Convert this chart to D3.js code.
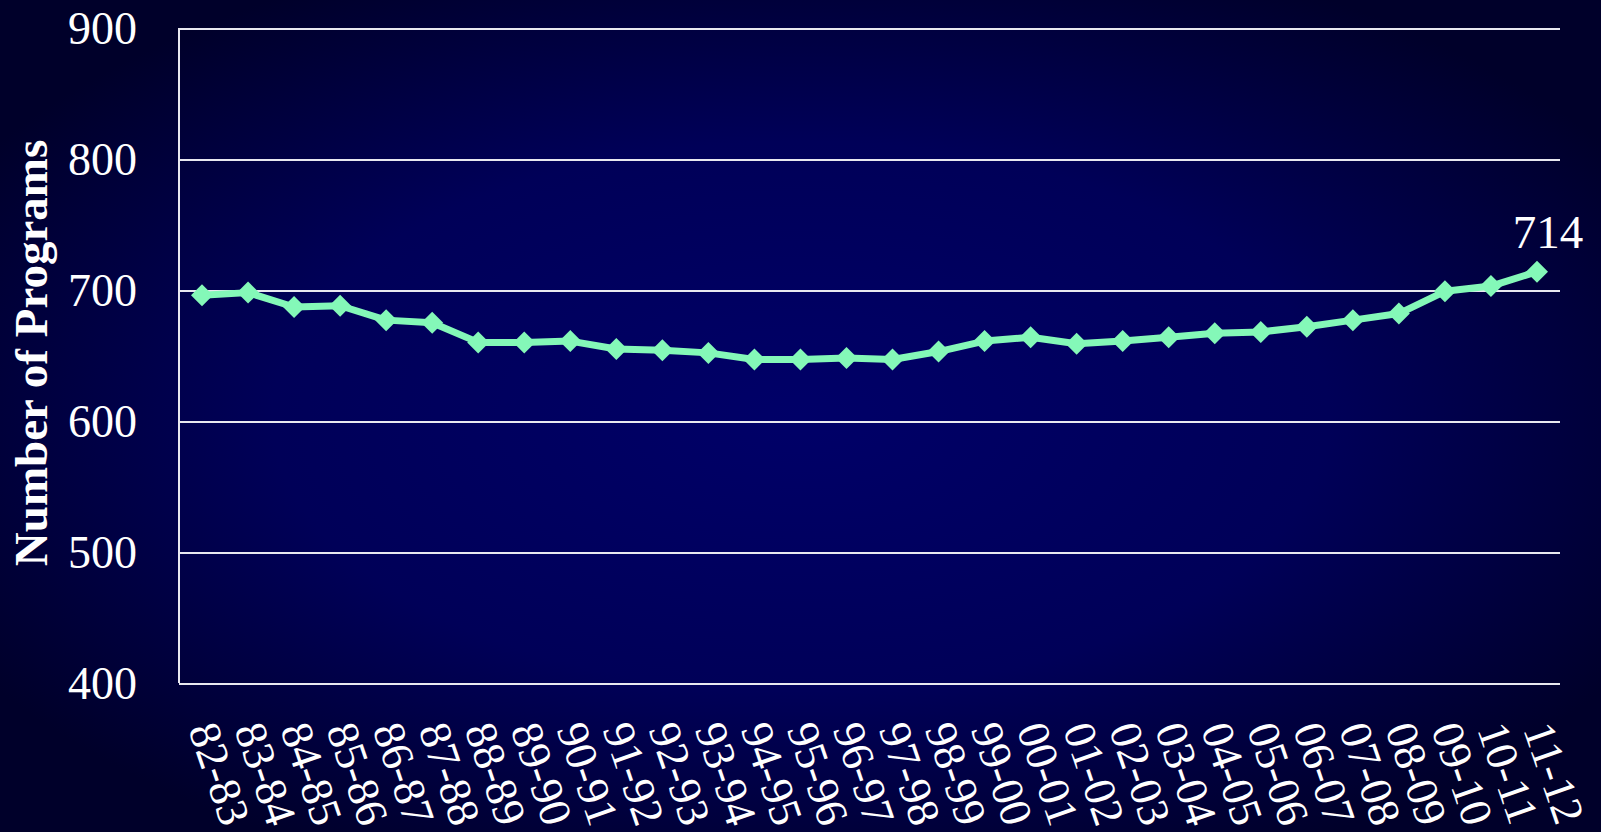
<!DOCTYPE html>
<html>
  <head>
    <meta charset="utf-8">
    <title>Number of Programs</title>
    <script src="https://d3js.org/d3.v7.min.js"></script>
    <style>
      html, body { margin: 0; padding: 0; background: #000030; overflow: hidden; }
      svg { display: block; }
      .grid line { stroke: #e8e8f0; stroke-width: 2; shape-rendering: crispEdges; }
      .grid path { stroke-width: 0; }
      text { font-family: "Liberation Serif", "Times New Roman", serif; fill: #fff; }
    </style>
  </head>
  <body>
    <script>
      // Academic years and program counts
      var years = ["82-83", "83-84", "84-85", "85-86", "86-87", "87-88", "88-89", "89-90",
                   "90-91", "91-92", "92-93", "93-94", "94-95", "95-96", "96-97", "97-98",
                   "98-99", "99-00", "00-01", "01-02", "02-03", "03-04", "04-05", "05-06",
                   "06-07", "07-08", "08-09", "09-10", "10-11", "11-12"];
      var programs = [696, 698, 687, 688, 677, 675, 660, 660, 661, 655,
                      654, 652, 647, 647, 648, 647, 653, 661, 664, 659,
                      661, 664, 667, 668, 672, 677, 682, 699, 703, 714];
      var yTicks = [400, 500, 600, 700, 800, 900];
      var lastLabel = "714";

      var W = 1601, H = 832;
      var margin = {top: 28, right: 41, bottom: 149, left: 179},
          width = W - margin.left - margin.right,
          height = H - margin.top - margin.bottom;

      var svgRoot = d3.select("body").append("svg")
          .attr("width", W)
          .attr("height", H);

      // background gradient
      var defs = svgRoot.append("defs");
      var grad = defs.append("radialGradient")
          .attr("id", "bg")
          .attr("cx", "50%").attr("cy", "50%").attr("r", "60%");
      grad.append("stop").attr("offset", "0%").attr("stop-color", "#000068");
      grad.append("stop").attr("offset", "55%").attr("stop-color", "#000058");
      grad.append("stop").attr("offset", "100%").attr("stop-color", "#00002a");
      svgRoot.append("rect").attr("width", W).attr("height", H).attr("fill", "url(#bg)");

      var svg = svgRoot.append("g")
          .attr("transform", "translate(" + margin.left + "," + margin.top + ")");

      var x = d3.scaleBand().domain(years).range([0, width]).padding(0);
      var y = d3.scaleLinear().domain([400, 900]).range([height, 0]);
      var cx = function(d) { return x(d) + x.bandwidth() / 2; };

      // gridlines
      svg.append("g")
          .attr("class", "grid")
          .call(d3.axisLeft(y).tickValues(yTicks).tickSize(-width).tickFormat(""));

      // y axis line
      svg.append("line")
          .attr("x1", 0).attr("x2", 0)
          .attr("y1", 0).attr("y2", height)
          .attr("stroke", "#e8e8f0").attr("stroke-width", 2);

      // y tick labels
      svg.selectAll(".ylab")
          .data(yTicks)
        .enter().append("text")
          .attr("class", "ylab")
          .attr("x", -42)
          .attr("y", function(d) { return y(d); })
          .attr("dy", "0.34em")
          .attr("text-anchor", "end")
          .style("font-size", "46px")
          .text(function(d) { return d; });

      // x tick labels, slanted
      svg.selectAll(".xlab")
          .data(years)
        .enter().append("text")
          .attr("class", "xlab")
          .attr("transform", function(d) {
            return "translate(" + (cx(d) - 14) + "," + (height + 46) + ") rotate(71)";
          })
          .attr("text-anchor", "start")
          .style("font-size", "45px")
          .text(function(d) { return d; });

      // y axis title
      svgRoot.append("text")
          .attr("transform", "translate(47," + 353 + ") rotate(-90)")
          .attr("text-anchor", "middle")
          .style("font-size", "47px")
          .style("font-weight", "bold")
          .text("Number of Programs");

      // line
      var data = years.map(function(d, i) { return {year: d, value: programs[i]}; });
      var line = d3.line()
          .x(function(d) { return cx(d.year); })
          .y(function(d) { return y(d.value); });

      svg.append("path")
          .datum(data)
          .attr("fill", "none")
          .attr("stroke", "#84f8b8")
          .attr("stroke-width", 7)
          .attr("stroke-linejoin", "round")
          .attr("d", line);

      // diamond markers
      svg.selectAll(".pt")
          .data(data)
        .enter().append("path")
          .attr("class", "pt")
          .attr("fill", "#84f8b8")
          .attr("transform", function(d) { return "translate(" + cx(d.year) + "," + y(d.value) + ")"; })
          .attr("d", "M0,-11L11,0L0,11L-11,0Z");

      // last value label
      var last = data[data.length - 1];
      svg.append("text")
          .attr("x", cx(last.year) + 11)
          .attr("y", y(last.value) - 24)
          .attr("text-anchor", "middle")
          .style("font-size", "47px")
          .text(lastLabel);
    </script>
  </body>
</html>
